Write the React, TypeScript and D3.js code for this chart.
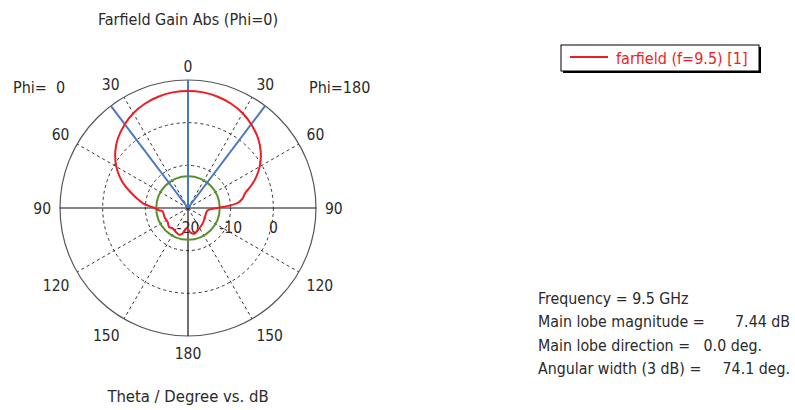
import React from "react";
import * as d3 from "d3";

// Farfield gain cut (Phi = 0 / Phi = 180), theta in degrees on the screen circle,
// negative angles lie on the Phi=0 side (left), positive on the Phi=180 side (right).
const thetaDeg = [
  -180, -175, -168, -162, -153, -143, -135, -125, -111, -98, -94, -90, -87, -84, -80,
  -75.5, -71, -66, -60, -52.5, -45, -37, -30, -22.5, -15, -7.5, 0, 7.5, 15, 22.5, 30, 37,
  45, 52.5, 60, 66, 71, 75.5, 80, 84, 87, 89.5, 92, 97, 108, 123, 137, 156, 166, 174, 180,
];
const gainDb = [
  -15.0, -15.2, -13.9, -13.4, -13.7, -14.0, -13.7, -14.2, -14.1, -14.0, -13.1, -12.2,
  -10.8, -9.4, -8.0, -6.4, -4.5, -2.6, -0.6, 1.5, 3.2, 4.6, 5.65, 6.45, 7.0, 7.33, 7.44,
  7.33, 7.0, 6.45, 5.65, 4.6, 3.2, 1.5, -0.6, -2.6, -4.5, -6.2, -7.0, -8.2, -10.6, -12.8,
  -14.3, -15.4, -15.6, -15.4, -15.0, -14.3, -13.8, -14.2, -15.0,
];

const mainLobeMagnitude = 7.44;
const mainLobeDirection = 0.0;
const angularWidth = 74.1;
const sideLobeLevel = mainLobeMagnitude - 20;

const ringValues = [-10, 0];
const ringLabels = ["-20", "-10", "0"];
const ringLabelValues = [-20, -10, 0];
const spokeAngles = [-150, -120, -60, -30, 30, 60, 120, 150];
const angleLabels = [0, 30, 60, 90, 120, 150, 180];

const infoLabels = [
  "Frequency = 9.5 GHz",
  "Main lobe magnitude =",
  "Main lobe direction =",
  "Angular width (3 dB) =",
];
const infoValues = [
  "",
  `${mainLobeMagnitude.toFixed(2)} dB`,
  `${mainLobeDirection.toFixed(1)} deg.`,
  `${angularWidth.toFixed(1)} deg.`,
];
const infoValueRight = [0, 790, 762, 790];

const FONT = "'DejaVu Sans Condensed', 'DejaVu Sans', sans-serif";
const TEXT = "#2a2a2a";
const RED = "#ee1c25";
const BLUE = "#4a78c0";
const GREEN = "#5a9130";

export default function App() {
  const cx = 188;
  const cy = 208;
  const R = 128;
  const r = d3.scaleLinear().domain([-20, 10]).range([0, R]);
  const rad = (deg: number) => (deg * Math.PI) / 180;

  const pts = thetaDeg.map((t, i) => [t, gainDb[i]] as [number, number]);
  const pattern = d3
    .lineRadial<[number, number]>()
    .angle((d) => rad(d[0]))
    .radius((d) => r(Math.max(-20, d[1])))
    .curve(d3.curveCatmullRom.alpha(0.5))(pts);

  // label box is pushed outward so that its nearest corner sits just past the rim
  const labelPos = (deg: number, text: string) => {
    const s = Math.sin(rad(deg));
    const c = Math.cos(rad(deg));
    const px = cx + (R + 9) * s;
    const py = cy - (R + 9) * c;
    const w = text.length * 8.8;
    const sx = Math.abs(s) < 1e-6 ? 0 : Math.sign(s);
    const sy = Math.abs(c) < 1e-6 ? 0 : Math.sign(c);
    const h = sy > 0 ? 11 : 16;
    return [px + (sx * w) / 2, py - (sy * h) / 2 + 1];
  };

  const beamAngles = [
    mainLobeDirection,
    mainLobeDirection - angularWidth / 2,
    mainLobeDirection + angularWidth / 2,
  ];

  return (
    <svg
      width={795}
      height={410}
      style={{ position: "absolute", left: 0, top: 0, background: "#fff" }}
      fontFamily={FONT}
    >
      <rect width={795} height={410} fill="#fff" />
      <text x={cx} y={25} textAnchor="middle" fontSize={16} fill={TEXT}>
        Farfield Gain Abs (Phi=0)
      </text>
      <text x={13} y={93} fontSize={16} fill={TEXT} xmlSpace="preserve">
        {"Phi=  0"}
      </text>
      <text x={309} y={93} fontSize={16} fill={TEXT}>
        Phi=180
      </text>

      {/* grid */}
      <g transform={`translate(${cx},${cy})`}>
        {ringValues.map((v) => (
          <circle key={v} r={r(v)} fill="none" stroke="#333" strokeWidth={1} strokeDasharray="3,3" />
        ))}
        {spokeAngles.map((a) => {
          const x = R * Math.sin(rad(a));
          const y = -R * Math.cos(rad(a));
          return (
            <line key={a} x1={0} y1={0} x2={x} y2={y} stroke="#333" strokeWidth={1} strokeDasharray="3,3" />
          );
        })}
        <circle r={R} fill="none" stroke="#555" strokeWidth={1.2} />
        <line x1={-R} y1={0} x2={R} y2={0} stroke="#111" strokeWidth={1.2} />
        <line x1={0} y1={-R} x2={0} y2={R} stroke="#111" strokeWidth={1.2} />
      </g>

      {/* angle labels on both halves */}
      {angleLabels.map((a) => {
        const sides = a === 0 || a === 180 ? [a] : [-a, a];
        return sides.map((s) => {
          const txt = String(Math.abs(s));
          const [x, y] = labelPos(s, txt);
          return (
            <text
              key={`l${s}`}
              x={x}
              y={y}
              textAnchor="middle"
              dominantBaseline="central"
              fontSize={15.5}
              fill={TEXT}
            >
              {txt}
            </text>
          );
        });
      })}

      {/* radial dB labels */}
      {ringLabelValues.map((v, i) => (
        <text
          key={v}
          x={cx + r(v)}
          y={cy + 20}
          textAnchor="middle"
          dominantBaseline="central"
          fontSize={15.5}
          fill={TEXT}
        >
          {ringLabels[i]}
        </text>
      ))}

      <g transform={`translate(${cx},${cy})`}>
        <circle r={r(sideLobeLevel)} fill="none" stroke={GREEN} strokeWidth={2} />
        {beamAngles.map((a, i) => {
          const x = R * Math.sin(rad(a));
          const y = -R * Math.cos(rad(a));
          return <line key={i} x1={0} y1={0} x2={x} y2={y} stroke={BLUE} strokeWidth={2} />;
        })}
        <path d={pattern ?? ""} fill="none" stroke={RED} strokeWidth={2} strokeLinejoin="round" />
      </g>

      <text x={cx} y={402} textAnchor="middle" fontSize={16.5} fill={TEXT}>
        Theta / Degree vs. dB
      </text>

      {/* legend */}
      <rect x={563} y={47} width={198} height={26} fill="#000" />
      <rect x={561} y={45} width={198} height={26} fill="#fff" stroke="#000" strokeWidth={1} />
      <line x1={570} y1={57} x2={608} y2={57} stroke={RED} strokeWidth={2} />
      <text x={616} y={58} dominantBaseline="central" fontSize={16} fill={RED}>
        farfield (f=9.5) [1]
      </text>

      {/* main lobe summary */}
      {infoLabels.map((t, i) => (
        <text key={t} x={538} y={298 + i * 23.6} dominantBaseline="central" fontSize={15.8} fill={TEXT}>
          {t}
        </text>
      ))}
      {infoValues.map((t, i) =>
        t ? (
          <text
            key={i}
            x={infoValueRight[i]}
            y={298 + i * 23.6}
            textAnchor="end"
            dominantBaseline="central"
            fontSize={15.8}
            fill={TEXT}
          >
            {t}
          </text>
        ) : null
      )}
    </svg>
  );
}
